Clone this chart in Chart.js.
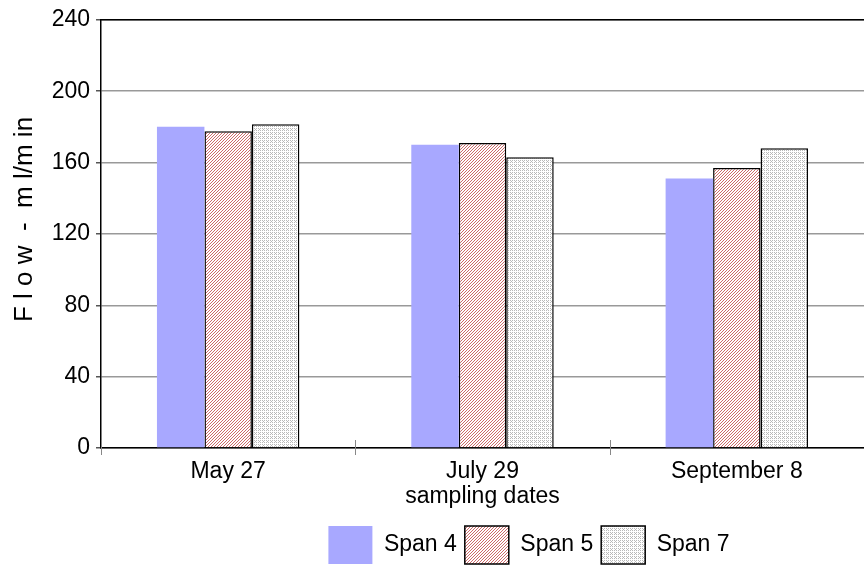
<!DOCTYPE html>
<html>
<head>
<meta charset="utf-8">
<script src="https://cdn.jsdelivr.net/npm/chart.js@4/dist/chart.umd.min.js"></script>
<style>
  html, body { margin: 0; padding: 0; background: #fff; }
  #wrap { width: 864px; height: 568px; }
</style>
</head>
<body>
<div id="wrap"><canvas id="myChart" width="864" height="568"></canvas></div>
<script>
// data
const samplingDates = ["May 27", "July 29", "September 8"];
const span4 = [180, 170, 151];
const span5 = [177.5, 171, 157];
const span7 = [181.5, 163, 168];
const yTicks = [0, 40, 80, 120, 160, 200, 240];

const FONT = "'Liberation Sans', Arial, sans-serif";
const FSIZE = 23;

// little tile patterns for the hatched bars
function makePattern(w, h, fg, test) {
    let c = document.createElement("canvas");
    c.width = w; c.height = h;
    let g = c.getContext("2d");
    g.fillStyle = "#fff";
    g.fillRect(0, 0, w, h);
    g.fillStyle = fg;
    for (let y = 0; y < h; y++) {
        for (let x = 0; x < w; x++) {
            if (test(x, y)) g.fillRect(x, y, 1, 1);
        }
    }
    return document.getElementById("myChart").getContext("2d").createPattern(c, "repeat");
}

let hatchRed = makePattern(3, 3, "rgb(205,105,105)", (x, y) => (x + y) % 3 == 0);
let dotsGray = makePattern(4, 4, "rgb(185,185,185)", (x, y) => (y % 2 == 0 && x % 2 == 0) || (y % 4 == 1 && x % 4 == 3));

// short tick marks across the x axis, top border, and legend shift
const extras = {
    id: "extras",
    afterLayout(chart) {
        let lg = chart.legend;
        lg.left += 97; lg.right += 97;
        lg.top += 8; lg.bottom += 8;
    },
    afterDraw(chart) {
        let ctx = chart.ctx;
        let xs = chart.scales.x;
        let y0 = chart.chartArea.bottom;
        ctx.save();
        ctx.strokeStyle = "#888";
        ctx.lineWidth = 1;
        for (let i = 0; i <= samplingDates.length; i++) {
            let x = Math.round(xs.getPixelForValue(i - 0.5)) + 0.5;
            ctx.beginPath();
            ctx.moveTo(x, y0 - 8);
            ctx.lineTo(x, y0 + 7);
            ctx.stroke();
        }
        ctx.strokeStyle = "#000";
        ctx.lineWidth = 1.5;
        ctx.beginPath();
        ctx.moveTo(chart.chartArea.left, chart.chartArea.top);
        ctx.lineTo(chart.chartArea.right, chart.chartArea.top);
        ctx.stroke();
        ctx.restore();
    }
};

new Chart("myChart", {
    type: "bar",
    data: {
        labels: samplingDates,
        datasets: [{
            label: "Span 4",
            backgroundColor: "rgb(168,168,255)",
            borderWidth: 0,
            data: span4
        }, {
            label: "Span 5",
            backgroundColor: hatchRed,
            borderColor: "#000",
            borderWidth: 1.5,
            data: span5
        }, {
            label: "Span 7",
            backgroundColor: dotsGray,
            borderColor: "#000",
            borderWidth: 1.5,
            data: span7
        }]
    },
    options: {
        responsive: false,
        animation: false,
        layout: { padding: { top: 18, right: 0, bottom: 2, left: 0 } },
        datasets: {
            bar: { categoryPercentage: 0.56, barPercentage: 1 }
        },
        plugins: {
            tooltip: { enabled: false },
            legend: {
                position: "bottom",
                labels: {
                    font: { family: FONT, size: FSIZE },
                    color: "#000",
                    boxWidth: 44,
                    boxHeight: 38,
                    padding: 8,
                    useBorderRadius: false
                }
            }
        },
        scales: {
            x: {
                grid: { display: false },
                border: { display: true, color: "#000", width: 1.5 },
                ticks: {
                    font: { family: FONT, size: FSIZE },
                    color: "#000",
                    padding: 2,
                    maxRotation: 0
                },
                title: {
                    display: true,
                    text: "sampling dates",
                    font: { family: FONT, size: FSIZE },
                    color: "#000",
                    padding: { top: -2, bottom: 0 }
                },
                afterFit(scale) { scale.height = 62; }
            },
            y: {
                min: 0,
                max: 240,
                afterBuildTicks(scale) {
                    scale.ticks = yTicks.map(v => ({ value: v }));
                },
                grid: {
                    color: "#999",
                    lineWidth: 1.5,
                    tickLength: 5,
                    tickColor: "#555"
                },
                border: { display: true, color: "#000", width: 1.5 },
                ticks: {
                    font: { family: FONT, size: FSIZE },
                    color: "#000",
                    padding: 6
                },
                title: {
                    display: true,
                    text: "    F l o w  -  m l/m in",
                    font: { family: FONT, size: 26 },
                    color: "#000",
                    padding: { top: 9, bottom: 4 }
                },
                afterFit(scale) { scale.width = 101; }
            }
        }
    },
    plugins: [extras]
});
</script>
</body>
</html>
